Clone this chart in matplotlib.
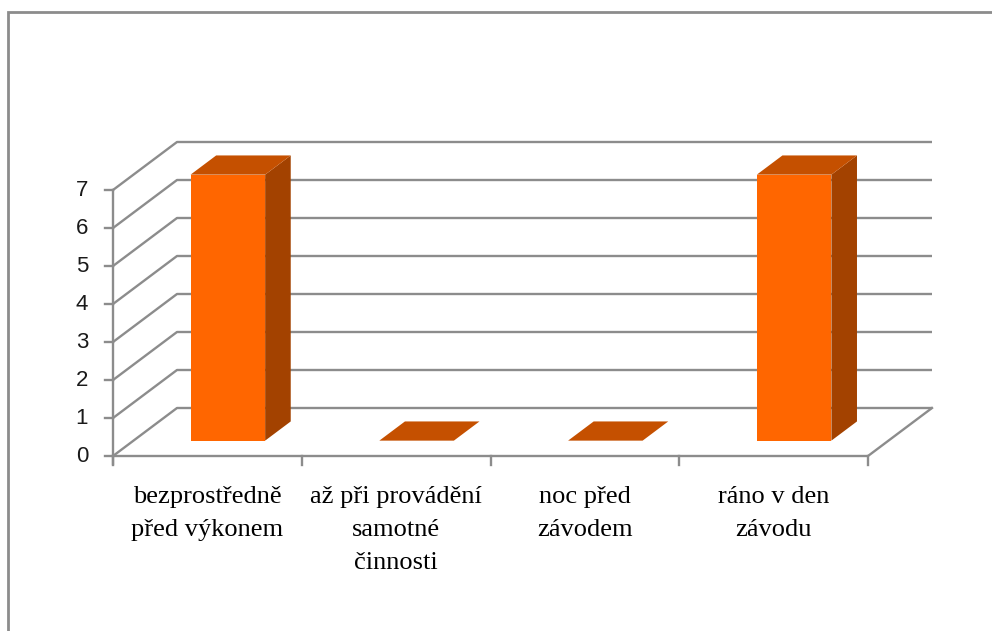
import matplotlib
matplotlib.use("Agg")
import matplotlib.pyplot as plt
from matplotlib.patches import Polygon, Rectangle

categories = ["bezprostředně\npřed výkonem", "až při provádění\nsamotné\nčinnosti",
              "noc před\nzávodem", "ráno v den\nzávodu"]
values = [7, 0, 0, 7]
yticks = [0, 1, 2, 3, 4, 5, 6, 7]

W, H = 992, 631
fig = plt.figure(figsize=(W / 100, H / 100), dpi=100)
ax = fig.add_axes([0, 0, 1, 1])
ax.axis("off")

# pixel mapping of the front plane
X0, CW = 113.0, 188.75
Y0, VU = 456.0, 38.0
ax.set_xlim(-X0 / CW, (W - X0) / CW)
ax.set_ylim(-(H - Y0) / VU, Y0 / VU)
DX, DY = 64.0 / CW, 48.0 / VU   # depth vector

n = len(categories)
ymax = max(yticks)
gcol = "#8c8c8c"
lw = 1.7

# walls / gridlines
for v in yticks:
    ax.plot([0, DX, n + DX], [v, v + DY, v + DY], color=gcol, lw=lw, solid_capstyle="butt", zorder=1)
# floor
ax.plot([0, n, n + DX], [0, 0, DY], color=gcol, lw=lw, zorder=1)
# front vertical axis
ax.plot([0, 0], [-8 / VU, ymax], color=gcol, lw=lw, zorder=1)
for v in yticks:
    ax.plot([-8 / CW, 0], [v, v], color=gcol, lw=lw, zorder=1)
    ax.text(-25 / CW, v, str(v), ha="right", va="center", fontsize=16,
            family="Liberation Sans", color="#1a1a1a")
for i in range(n + 1):
    ax.plot([i, i], [0, -9 / VU], color=gcol, lw=lw, zorder=1)

# bars
bw = 0.395
f1, f2 = 0.32, 0.72
front_c, top_c, side_c = "#FF6600", "#C55000", "#A34200"
for i, v in enumerate(values):
    xl = i + 0.5 - bw / 2
    xr = i + 0.5 + bw / 2
    a = (f1 * DX, f1 * DY)
    b = (f2 * DX, f2 * DY)
    if v > 0:
        ax.add_patch(Polygon([(xl + a[0], a[1]), (xr + a[0], a[1]), (xr + a[0], v + a[1]), (xl + a[0], v + a[1])],
                             closed=True, fc=front_c, ec="none", zorder=3))
        ax.add_patch(Polygon([(xr + a[0], a[1]), (xr + b[0], b[1]), (xr + b[0], v + b[1]), (xr + a[0], v + a[1])],
                             closed=True, fc=side_c, ec="none", zorder=3))
    ax.add_patch(Polygon([(xl + a[0], v + a[1]), (xr + a[0], v + a[1]), (xr + b[0], v + b[1]), (xl + b[0], v + b[1])],
                         closed=True, fc=top_c, ec="none", zorder=3))

# category labels
for i, lab in enumerate(categories):
    ax.text(i + 0.5, -(486 - Y0) / VU, lab, ha="center", va="top", fontsize=19,
            family="Liberation Serif", linespacing=1.65, color="#000000")

# outer border
fig.patches.append(Rectangle((8 / W, -0.1), 1.2, 1.1 - 12 / H, transform=fig.transFigure,
                             fill=False, ec="#8c8c8c", lw=2, clip_on=False))

fig.savefig("out.png", dpi=100, facecolor="white")
